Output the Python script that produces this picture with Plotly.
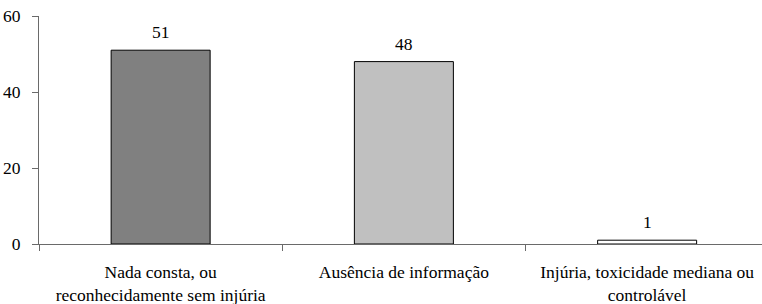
import plotly.graph_objects as go

categories = ["Nada consta, ou<br>reconhecidamente sem injúria",
              "Ausência de informação",
              "Injúria, toxicidade mediana ou<br>controlável"]
values = [51, 48, 1]
bar_colors = ["#808080", "#C0C0C0", "#FFFFFF"]
y_ticks = [0, 20, 40, 60]

FONT = "Liberation Serif"
FS = 17.5
AXIS = "#6a6a6a"

fig = go.Figure()
fig.add_trace(go.Bar(
    x=categories, y=values,
    marker=dict(color=bar_colors, line=dict(color="black", width=1)),
    hoverinfo="skip",
))

for c, v in zip(categories, values):
    fig.add_annotation(x=c, y=v, text=str(v), showarrow=False,
                       yanchor="middle", yshift=18,
                       font=dict(family=FONT, size=FS, color="black"))

W, H = 762, 304
L, R, T, B = 39, 0, 16, 60
plot_w = W - L - R
step = 243.25

fig.update_layout(
    width=W, height=H,
    margin=dict(l=L, r=R, t=T, b=B, pad=0, autoexpand=False),
    paper_bgcolor="white", plot_bgcolor="white",
    bargap=1 - 99 / step,
    showlegend=False,
    font=dict(family=FONT, size=FS, color="black"),
)
fig.update_xaxes(
    type="category",
    automargin=False,
    range=[-0.5, -0.5 + plot_w / step],
    showline=True, linecolor=AXIS, linewidth=1,
    ticks="outside", ticklen=6, tickcolor=AXIS, tickwidth=1,
    tickson="boundaries",
    showgrid=False, zeroline=False,
    tickfont=dict(family=FONT, size=FS, color="black"),
    ticklabelstandoff=12,
    ticklabeloverflow="allow",
)
fig.update_yaxes(
    automargin=False,
    range=[0, 60],
    tickvals=y_ticks,
    showline=True, linecolor=AXIS, linewidth=1,
    ticks="outside", ticklen=6, tickcolor=AXIS, tickwidth=1,
    showgrid=False, zeroline=False,
    tickfont=dict(family=FONT, size=FS, color="black"),
    ticklabelstandoff=8,
    ticklabeloverflow="allow",
)

fig.write_html(
    "out.html",
    config={"displayModeBar": False},
    post_script="document.body.style.margin='0';document.body.style.overflow='hidden';",
)
